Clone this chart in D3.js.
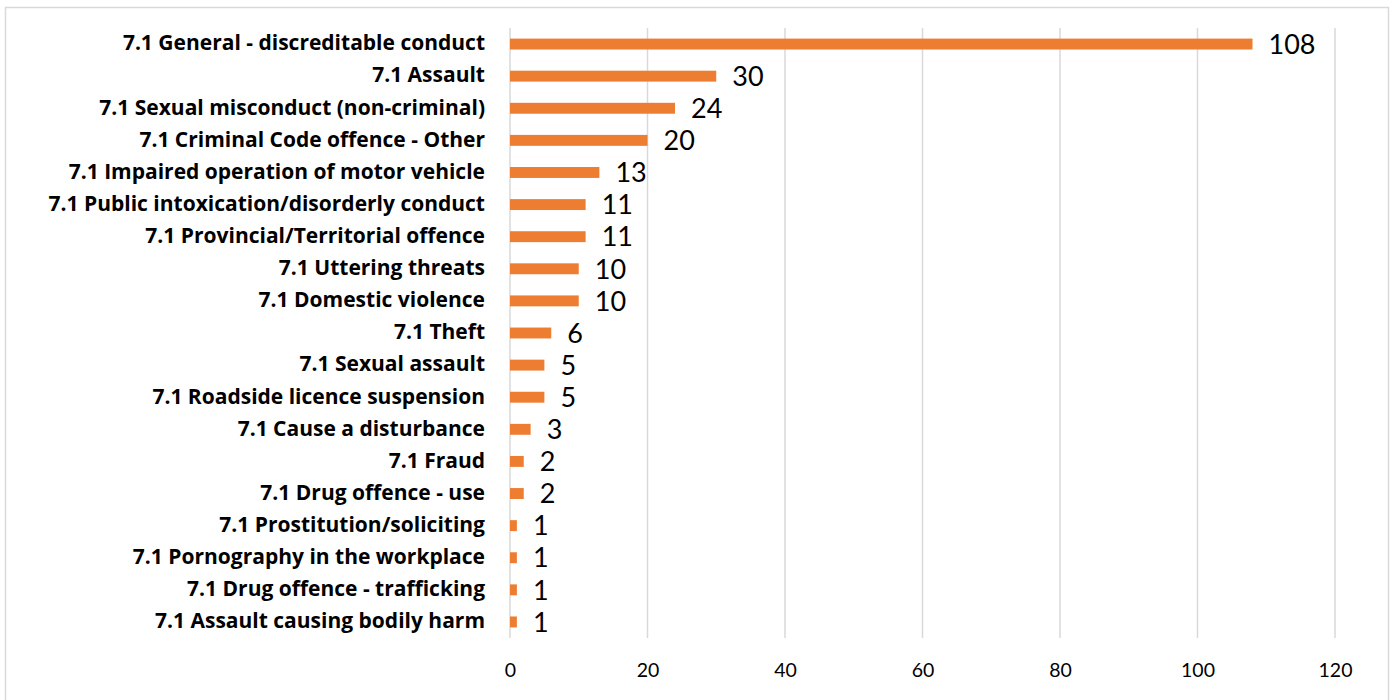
<!DOCTYPE html>
<html>
<head>
<meta charset="utf-8">
<script src="https://cdn.jsdelivr.net/npm/d3@7"></script>
<style>
  html, body { margin: 0; padding: 0; background: #fff; }
  svg { display: block; }
</style>
</head>
<body>
<svg id="chart" width="1393" height="700"></svg>
<script>
// Categories (top to bottom) and their counts
const categories = [
  "7.1 General - discreditable conduct",
  "7.1 Assault",
  "7.1 Sexual misconduct (non-criminal)",
  "7.1 Criminal Code offence - Other",
  "7.1 Impaired operation of motor vehicle",
  "7.1 Public intoxication/disorderly conduct",
  "7.1 Provincial/Territorial offence",
  "7.1 Uttering threats",
  "7.1 Domestic violence",
  "7.1 Theft",
  "7.1 Sexual assault",
  "7.1 Roadside licence suspension",
  "7.1 Cause a disturbance",
  "7.1 Fraud",
  "7.1 Drug offence - use",
  "7.1 Prostitution/soliciting",
  "7.1 Pornography in the workplace",
  "7.1 Drug offence - trafficking",
  "7.1 Assault causing bodily harm"
];
const counts = [108, 30, 24, 20, 13, 11, 11, 10, 10, 6, 5, 5, 3, 2, 2, 1, 1, 1, 1];
const tickValues = [0, 20, 40, 60, 80, 100, 120];

const svg = d3.select("#chart");

// Outer frame
svg.append("rect")
  .attr("x", 5.5).attr("y", 7.5)
  .attr("width", 1383).attr("height", 700)
  .attr("fill", "#fff")
  .attr("stroke", "#d9d9d9").attr("stroke-width", 1.5);

const plot = { left: 510, right: 1335, top: 28, bottom: 638 };

const x = d3.scaleLinear().domain([0, 120]).range([plot.left, plot.right]);
const y = d3.scaleBand().domain(categories).range([plot.top, plot.bottom])
  .paddingInner(0.66).paddingOuter(0.33);

// Vertical gridlines
svg.append("g").selectAll("line")
  .data(tickValues)
  .join("line")
  .attr("x1", d => x(d)).attr("x2", d => x(d))
  .attr("y1", plot.top).attr("y2", plot.bottom)
  .attr("stroke", "#d9d9d9").attr("stroke-width", 1.5);

// X axis tick labels
const xAxis = d3.axisBottom(x).tickValues(tickValues).tickSize(0).tickPadding(0);
const gx = svg.append("g").attr("transform", `translate(0, ${plot.bottom})`).call(xAxis);
gx.select(".domain").remove();
gx.selectAll("text")
  .attr("y", 39)
  .attr("dy", 0)
  .attr("font-family", "Lato, 'Open Sans', sans-serif")
  .attr("font-size", 19.5)
  .attr("fill", "#000");

// Y axis category labels
const yAxis = d3.axisLeft(y).tickSize(0).tickPadding(25);
const gy = svg.append("g").attr("transform", `translate(${plot.left}, 0)`).call(yAxis);
gy.select(".domain").remove();
gy.selectAll("text")
  .attr("font-family", "'Open Sans', sans-serif")
  .attr("font-weight", "bold")
  .attr("font-size", 21)
  .attr("dy", "0.3em")
  .attr("fill", "#000");

// Bars
svg.append("g").selectAll("rect")
  .data(categories)
  .join("rect")
  .attr("x", x(0))
  .attr("y", d => y(d))
  .attr("width", (d, i) => x(counts[i]) - x(0))
  .attr("height", y.bandwidth())
  .attr("fill", "#ed7d31");

// Value labels
svg.append("g").selectAll("text")
  .data(categories)
  .join("text")
  .attr("x", (d, i) => x(counts[i]) + 16)
  .attr("y", d => y(d) + y.bandwidth() / 2)
  .attr("dy", "0.36em")
  .attr("font-family", "Lato, 'Open Sans', sans-serif")
  .attr("font-size", 27)
  .attr("fill", "#000")
  .text((d, i) => counts[i]);
</script>
</body>
</html>
